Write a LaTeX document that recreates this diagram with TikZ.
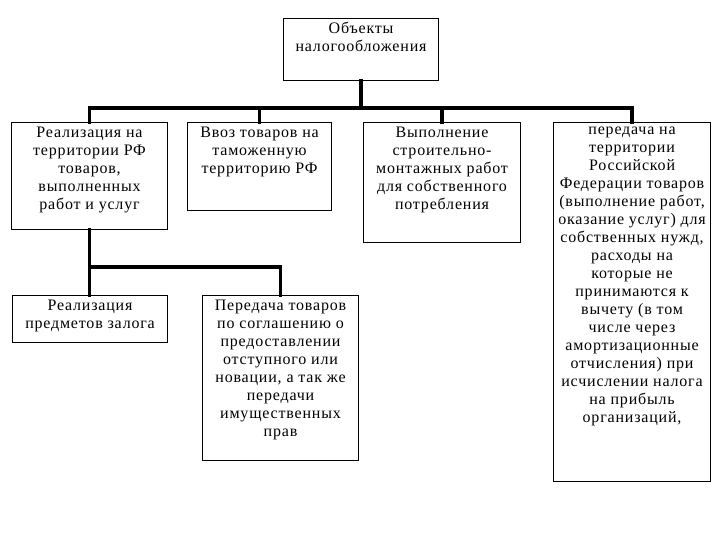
\documentclass[tikz,border=0pt]{standalone}
\usepackage{fontspec}
\setmainfont[LetterSpace=5]{Liberation Serif}
\usetikzlibrary{positioning}
\setlength\unitlength{0.75pt}
% text of a box, set from its top edge
\newcommand\boxtext[3]{\parbox[c][#2\unitlength][t]{#1\unitlength}{\vspace*{3pt}\centering #3}}

\begin{document}
\begin{tikzpicture}[x=0.75pt,y=-0.75pt,
    obj/.style={draw,line width=0.8pt,anchor=north west,inner sep=0pt,
                font=\fontsize{12}{13.5}\selectfont},
    link/.style={line width=2.7pt,line cap=rect}]
    \useasboundingbox (0,0) rectangle (720,540);
    % root
    \node[obj] (top) at (283,18)  {\boxtext{155}{62}{Объекты\\налогообложения}};
    % first level
    \node[obj] (b1)  at (11,122)  {\boxtext{156}{107}{Реализация на\\территории РФ\\товаров,\\выполненных\\работ и услуг}};
    \node[obj] (b2)  at (187,122) {\boxtext{144}{88}{Ввоз товаров на\\таможенную\\территорию РФ}};
    \node[obj] (b3)  at (363,122) {\boxtext{157}{120}{Выполнение\\строительно-\\монтажных работ\\для собственного\\потребления}};
    \node[obj] (b4)  at (553,122) {\boxtext{157}{359}{передача на\\территории\\Российской\\Федерации товаров\\(выполнение работ,\\оказание услуг) для\\собственных нужд,\\расходы на\\которые не\\принимаются к\\вычету (в том\\числе через\\амортизационные\\отчисления) при\\исчислении налога\\на прибыль\\организаций,}};
    % second level
    \node[obj] (b5)  at (12,295)  {\boxtext{155}{47}{Реализация\\предметов залога}};
    \node[obj] (b6)  at (202,295) {\boxtext{156}{165}{Передача товаров\\по соглашению о\\предоставлении\\отступного или\\новации, а так же\\передачи\\имущественных\\прав}};
    % connectors
    \coordinate (bus)  at (top.south |- 0,108);
    \coordinate (bus2) at (b1.south |- 0,267);
    \draw[link] (top.south) -- (bus);
    \draw[link] (bus) -| (b1.north);
    \draw[link] (bus) -| (b2.north);
    \draw[link] (bus) -| (b3.north);
    \draw[link] (bus) -| (b4.north);
    \draw[link] (b1.south) -- (b1.south |- b5.north);
    \draw[link] (bus2) -| (b6.north);
\end{tikzpicture}
\end{document}
